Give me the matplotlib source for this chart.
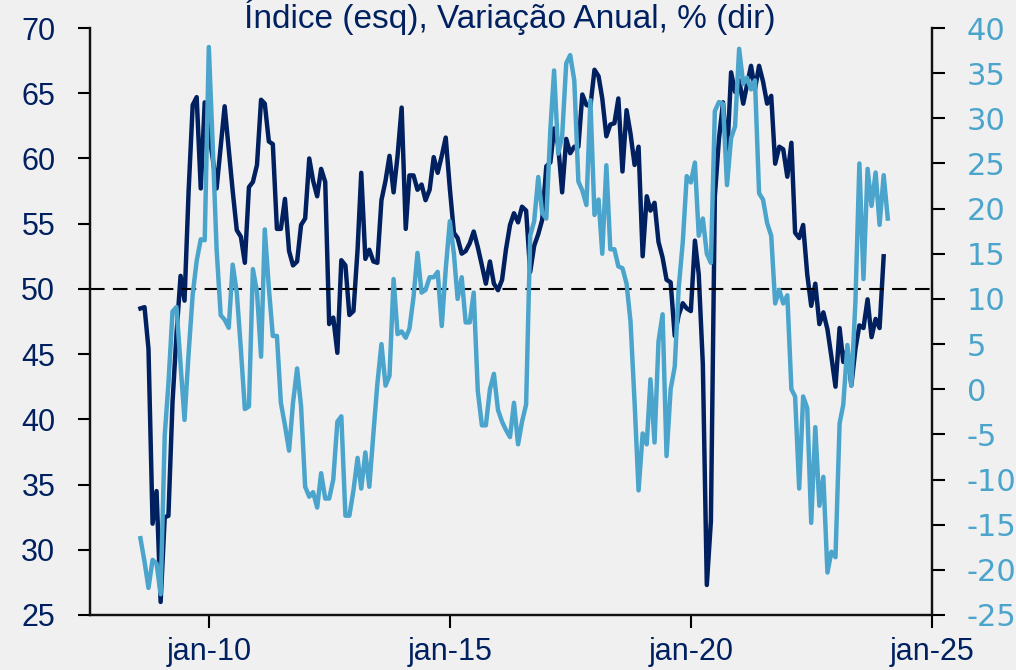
import numpy as np
import pandas as pd
import matplotlib
matplotlib.use("Agg")
import matplotlib.pyplot as plt

plt.rcParams["axes.unicode_minus"] = False

# Indice (eixo esquerdo), mensal desde ago-2008
indice = [48.5, 48.6, 45.4, 32.0, 34.5, 26.0, 32.5, 32.6, 41.3, 46.5,
          51.0, 49.1, 57.5, 64.1, 64.7, 57.7, 64.3, 62.1, 59.9, 57.7,
          60.9, 64.0, 60.7, 57.5, 54.5, 54.0, 52.0, 57.8, 58.2, 59.5,
          64.5, 64.2, 61.3, 61.1, 54.6, 54.6, 56.9, 52.9, 51.8, 52.1,
          54.9, 55.4, 60.0, 58.3, 57.1, 59.2, 58.2, 47.3, 47.8, 45.1,
          52.2, 51.8, 48.0, 48.3, 53.0, 58.9, 52.3, 53.0, 52.1, 52.0,
          56.8, 58.3, 60.2, 57.4, 60.2, 63.9, 54.6, 58.7, 58.7, 57.6,
          58.0, 56.8, 57.6, 60.1, 58.9, 60.2, 61.6, 57.7, 54.3, 53.9,
          52.7, 52.9, 53.5, 54.4, 53.2, 51.8, 50.4, 52.1, 50.4, 49.9,
          50.7, 53.0, 54.9, 55.8, 55.1, 56.3, 56.0, 51.3, 53.3, 54.2,
          55.3, 59.4, 59.7, 62.3, 61.0, 57.4, 61.5, 60.4, 60.9, 60.9,
          64.9, 64.1, 64.0, 66.8, 66.3, 64.6, 61.7, 62.6, 62.7, 64.6,
          59.0, 63.7, 61.9, 59.5, 60.9, 52.5, 57.1, 56.0, 56.6, 53.6,
          52.4, 50.7, 50.5, 46.4, 48.0, 48.9, 48.5, 48.3, 53.7, 51.1,
          44.2, 27.3, 32.2, 57.1, 61.5, 64.3, 60.0, 66.6, 65.1, 66.0,
          64.2, 65.6, 67.1, 65.3, 67.1, 65.9, 64.2, 64.8, 59.6, 60.9,
          60.7, 58.6, 61.2, 54.3, 53.9, 54.9, 51.1, 48.7, 50.4, 47.3,
          48.2, 46.9, 44.8, 42.5, 47.0, 44.4, 45.4, 42.6, 45.4, 47.2,
          47.0, 49.2, 46.3, 47.7, 47.0, 52.5]

# Variacao anual, % (eixo direito)
var_anual = [-16.5, -19.1, -22.0, -18.9, -19.3, -22.7, -5.1, 0.6, 8.6, 9.1,
             2.8, -3.4, 4.0, 10.5, 14.2, 16.6, 16.5, 37.9, 26.5, 15.5,
             8.2, 7.7, 6.8, 13.8, 10.7, 4.4, -2.2, -1.9, 13.3, 10.8,
             3.6, 17.7, 11.2, 5.9, 5.9, -1.5, -4.0, -6.8, -1.5, 2.3,
             -1.9, -10.8, -11.9, -11.4, -13.1, -9.3, -12.1, -12.1, -10.0, -3.6,
             -3.0, -14.0, -14.0, -11.2, -7.6, -11.0, -7.0, -10.8, -4.9, 0.6,
             5.0, 0.4, 1.5, 12.2, 6.1, 6.4, 5.7, 6.7, 10.2, 15.1,
             10.7, 11.0, 12.4, 12.4, 13.0, 7.0, 13.3, 18.6, 15.0, 10.0,
             12.4, 7.4, 7.4, 10.7, -0.2, -4.0, -4.0, 0.0, 1.7, -2.3,
             -3.6, -4.5, -5.3, -1.5, -6.1, -3.6, -1.7, 17.0, 18.6, 23.5,
             19.5, 18.9, 28.8, 35.3, 26.1, 28.0, 36.1, 37.0, 34.2, 23.0,
             22.0, 20.4, 32.0, 19.3, 21.0, 15.0, 24.8, 15.5, 15.5, 13.6,
             13.4, 11.7, 7.5, -1.5, -11.2, -4.9, -6.1, 1.1, -5.9, 5.3,
             8.3, -7.4, 0.0, 2.5, 11.2, 16.3, 23.6, 22.9, 25.1, 17.0,
             18.9, 15.0, 14.0, 30.8, 31.8, 31.6, 22.6, 27.8, 29.1, 37.7,
             33.8, 34.5, 33.2, 34.2, 21.7, 21.0, 18.4, 17.0, 9.5, 11.0,
             9.5, 10.4, 0.0, -0.8, -11.0, -0.8, -2.1, -14.8, -4.2, -12.9,
             -9.7, -20.3, -18.0, -18.6, -3.8, -1.7, 4.9, 0.4, 9.7, 25.0,
             12.2, 24.4, 20.3, 24.0, 18.2, 23.7, 18.9]

datas_ind = pd.date_range("2008-08-01", periods=len(indice), freq="MS")
datas_var = pd.date_range("2008-08-01", periods=len(var_anual), freq="MS")

x_ticks = ["2010-01-01", "2015-01-01", "2020-01-01", "2025-01-01"]
x_labels = ["jan-10", "jan-15", "jan-20", "jan-25"]

azul_esc = "#002060"
azul_cl = "#4aa4cc"
fundo = "#f0f0f0"
fonte = ["Liberation Sans", "DejaVu Sans"]

fig = plt.figure(figsize=(10.16, 6.70), dpi=100, facecolor=fundo)
ax = fig.add_axes([0.0886, 0.0821, 0.8287, 0.8761])
ax.set_facecolor(fundo)
ax2 = ax.twinx()

ax.plot(datas_ind, indice, color=azul_esc, lw=3.2)
ax.axhline(50, color="black", lw=1.5, ls=(0, (7, 4)))
ax2.plot(datas_var, var_anual, color=azul_cl, lw=3.2)

ax.set_ylim(25, 70)
ax.set_yticks(np.arange(25, 71, 5))
ax2.set_ylim(-25, 40)
ax2.set_yticks(np.arange(-25, 41, 5))
ax.set_xlim(pd.Timestamp("2007-07-16"), pd.Timestamp("2025-01-01"))
ax.set_xticks(pd.to_datetime(x_ticks))
ax.set_xticklabels(x_labels)

for a in (ax, ax2):
    a.spines["top"].set_visible(False)
    for s in ("left", "right", "bottom"):
        a.spines[s].set_linewidth(1.6)
        a.spines[s].set_color("#111111")

ax.tick_params(axis="y", direction="out", length=9, width=1.5, pad=16,
               labelsize=22, labelcolor=azul_esc)
ax.tick_params(axis="x", direction="out", length=9, width=1.5, pad=7,
               labelsize=22, labelcolor=azul_esc)
ax2.tick_params(axis="y", direction="out", length=9, width=1.5, pad=16,
                labelsize=22, labelcolor=azul_cl)
for t in ax.get_yticklabels() + ax.get_xticklabels():
    t.set_family(fonte)

fig.text(0.502, 0.958, "Índice (esq), Variação Anual, % (dir)", ha="center",
         va="baseline", fontsize=24, color=azul_esc, family=fonte)

fig.savefig("out.png", dpi=100, facecolor=fundo)
